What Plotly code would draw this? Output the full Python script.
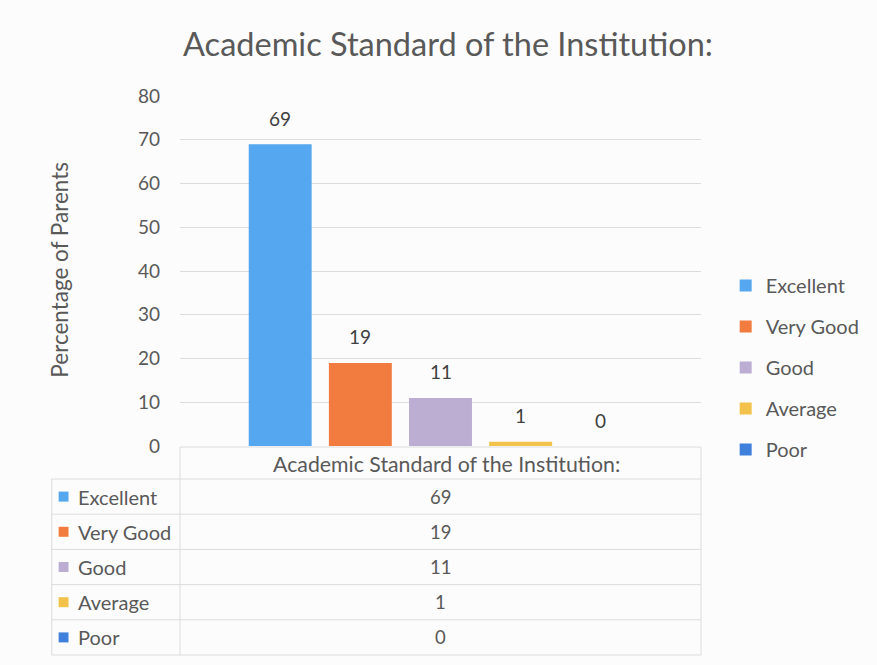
import plotly.graph_objects as go

# ---- data ----
categories = ["Excellent", "Very Good", "Good", "Average", "Poor"]
values = [69, 19, 11, 1, 0]
colors = ["#55a8ef", "#f27c40", "#bcadd2", "#f3c24a", "#3f80dc"]
y_ticks = [0, 10, 20, 30, 40, 50, 60, 70, 80]
chart_title = "Academic Standard of the Institution:"
y_title = "Percentage of Parents"

W, H = 877, 665
L, R, T, B = 180, 708, 96, 446  # plot area in pixels

FONT = "Lato, 'Open Sans', sans-serif"
TXT = "#595959"
GRID = "#dcdcdc"


def px_x(p):
    return (p - L) / (R - L)


def px_y(p):
    return (B - p) / (B - T)


fig = go.Figure()

for i, (cat, val, col) in enumerate(zip(categories, values, colors)):
    fig.add_trace(go.Bar(
        x=[cat], y=[val], name=cat, width=0.785,
        marker=dict(color=col, line=dict(width=0)),
        legendgroup=cat, showlegend=True,
    ))
    # value label above each bar
    fig.add_annotation(x=cat, y=val, xref="x", yref="y", text=str(val),
                       showarrow=False, yshift=26,
                       font=dict(family=FONT, size=19, color="#404040"))

shapes = []
annotations = []

# data table under the plot
row_top = 479
row_h = 35.2
table_left = 50
header_top = 447
n = len(categories)
bottom = row_top + n * row_h
line = dict(color=GRID, width=1)

shapes.append(dict(type="line", xref="paper", yref="paper",
                   x0=px_x(L), x1=px_x(R), y0=px_y(header_top), y1=px_y(header_top), line=line))
for k in range(n + 1):
    yy = row_top + k * row_h
    shapes.append(dict(type="line", xref="paper", yref="paper",
                       x0=px_x(table_left), x1=px_x(R), y0=px_y(yy), y1=px_y(yy), line=line))
shapes.append(dict(type="line", xref="paper", yref="paper",
                   x0=px_x(table_left), x1=px_x(table_left), y0=px_y(row_top), y1=px_y(bottom), line=line))
for xx in (L, R):
    shapes.append(dict(type="line", xref="paper", yref="paper",
                       x0=px_x(xx), x1=px_x(xx), y0=px_y(header_top), y1=px_y(bottom), line=line))

annotations.append(dict(x=px_x(450), y=px_y(464), xref="paper", yref="paper",
                        text=chart_title, showarrow=False, yanchor="middle",
                        font=dict(family=FONT, size=21.3, color=TXT)))

for k, (cat, val, col) in enumerate(zip(categories, values, colors)):
    cy = row_top + (k + 0.5) * row_h
    shapes.append(dict(type="rect", xref="paper", yref="paper",
                       x0=px_x(57), x1=px_x(67), y0=px_y(cy - 5), y1=px_y(cy + 5),
                       fillcolor=col, line=dict(width=0)))
    annotations.append(dict(x=px_x(75), y=px_y(cy), xref="paper", yref="paper",
                            text=cat, showarrow=False, xanchor="left", yanchor="middle",
                            font=dict(family=FONT, size=20, color=TXT)))
    annotations.append(dict(x=px_x(444), y=px_y(cy), xref="paper", yref="paper",
                            text=str(val), showarrow=False, yanchor="middle",
                            font=dict(family=FONT, size=18.5, color=TXT)))

# y-axis title
annotations.append(dict(x=px_x(57), y=px_y(270), xref="paper", yref="paper",
                        text=y_title, showarrow=False, textangle=-90,
                        xanchor="center", yanchor="middle",
                        font=dict(family=FONT, size=22.5, color=TXT)))

for a in annotations:
    fig.add_annotation(**a)

fig.update_layout(
    width=W, height=H,
    margin=dict(l=L, r=W - R, t=T, b=H - B, pad=0),
    paper_bgcolor="#fcfcfc", plot_bgcolor="#fcfcfc",
    barmode="overlay",
    shapes=shapes,
    title=dict(text=chart_title, x=448 / W, xanchor="center", y=1 - 45 / H, yanchor="middle",
               xref="container", yref="container",
               font=dict(family=FONT, size=32.5, color=TXT)),
    legend=dict(x=px_x(733), y=px_y(266), xanchor="left", yanchor="top",
                font=dict(family=FONT, size=20, color=TXT),
                tracegroupgap=12, itemwidth=30, bgcolor="rgba(0,0,0,0)",
                traceorder="grouped"),
    showlegend=True,
)
fig.update_xaxes(range=[-1.25, 5.25], showticklabels=False, showgrid=False,
                 zeroline=False, showline=False, fixedrange=True)
fig.update_yaxes(range=[0, 80], tickvals=y_ticks, showgrid=True, gridcolor=GRID, gridwidth=1,
                 zeroline=False, showline=False, ticks="", ticklabelstandoff=19,
                 tickfont=dict(family=FONT, size=19, color=TXT))

fig.write_html("out.html")
